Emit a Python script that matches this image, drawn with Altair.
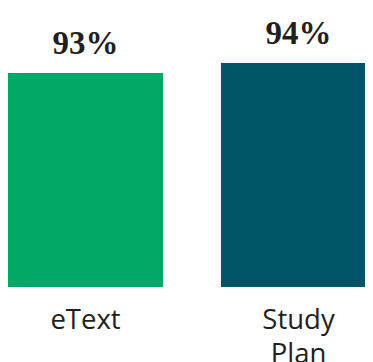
import altair as alt
import pandas as pd

categories = ["eText", "Study Plan"]
values = [93, 94]
labels = ["93%", "94%"]
colors = ["#00A866", "#005468"]

df = pd.DataFrame({"cat": categories, "val": values, "label": labels, "color": colors})

x = alt.X("cat:N", sort=categories, title=None,
          scale=alt.Scale(paddingInner=0.272, paddingOuter=0, range=[0, 368]),
          axis=alt.Axis(labelAngle=0, ticks=False, domain=False, labelFontSize=27.5,
                        labelFont="Open Sans", labelColor="#231f20", labelPadding=19,
                        labelLineHeight=34, labelExpr="split(datum.label, ' ')"))
y = alt.Y("val:Q", title=None, scale=alt.Scale(domain=[71.6, 99.5], zero=False, clamp=True, nice=False),
          axis=None)

bars = alt.Chart(df).mark_bar().encode(x=x, y=y, color=alt.Color("color:N", scale=None))
text = alt.Chart(df).mark_text(font="Liberation Serif", fontWeight="bold", fontSize=33,
                               baseline="alphabetic", dy=-19, color="#231f20").encode(
    x=x, y=y, text="label:N")

chart = (bars + text).properties(
    width=357, height=279,
    autosize=alt.AutoSizeParams(type="none"),
    padding={"left": 0, "top": 0, "right": 0, "bottom": 75},
).configure_view(stroke=None)

chart.save("out.html", embed_options={"renderer": "svg", "actions": False})
